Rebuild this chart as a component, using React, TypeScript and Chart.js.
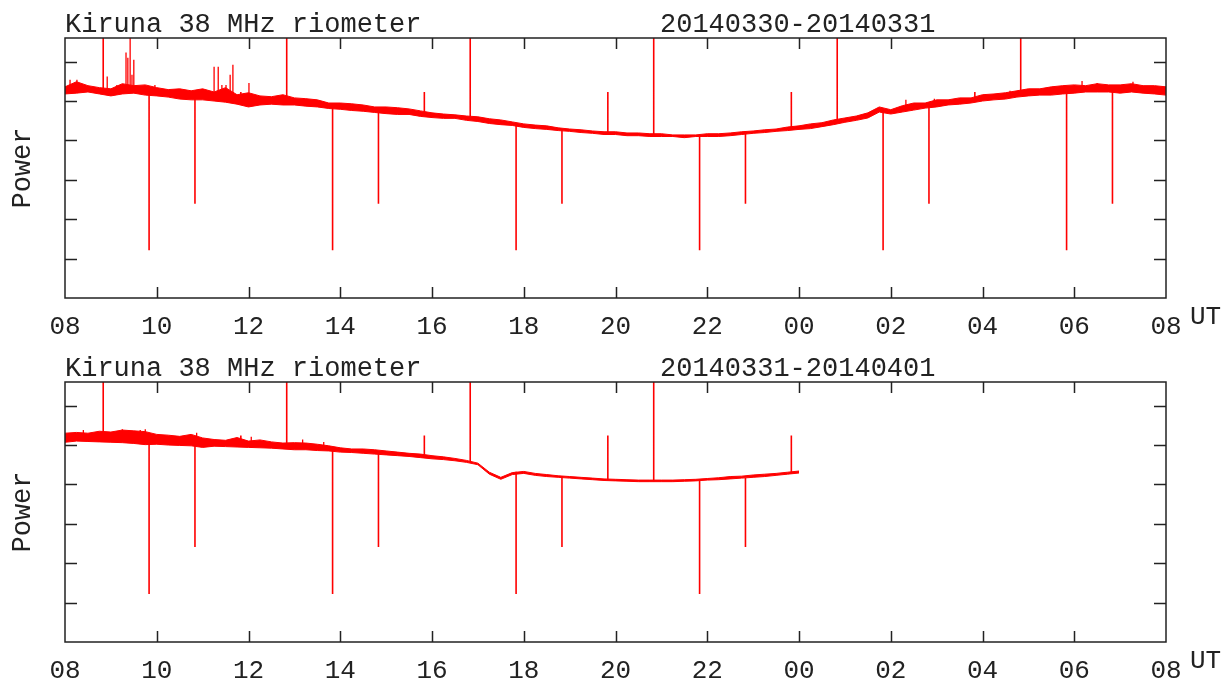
import React, { useEffect, useRef } from 'react';
import { Chart, registerables } from 'chart.js';

Chart.register(...registerables);

// ---------- DATA ----------
// Time axis: hours after 08 UT (0..24). Envelope samples every 15 min.
const SAMPLE_STEP = 0.25;
const START_HOUR = 8;

// Panel 1: 20140330-20140331 (upper / lower edge of the noisy trace)
const topUpper = [
  5.36, 5.49, 5.39, 5.34, 5.31, 5.44, 5.39, 5.41, 5.34, 5.29, 5.31, 5.26, 5.31, 5.23, 5.34, 5.16,
  5.21, 5.13, 5.11, 5.16, 5.08, 5.06, 5.03, 4.95, 4.95, 4.93, 4.90, 4.85, 4.85, 4.83, 4.80, 4.75,
  4.70, 4.67, 4.65, 4.62, 4.60, 4.55, 4.52, 4.47, 4.42, 4.39, 4.37, 4.32, 4.29, 4.27, 4.24, 4.22,
  4.22, 4.19, 4.19, 4.17, 4.17, 4.14, 4.14, 4.14, 4.17, 4.17, 4.19, 4.22, 4.24, 4.27, 4.29, 4.34,
  4.37, 4.42, 4.45, 4.52, 4.57, 4.62, 4.70, 4.85, 4.78, 4.88, 4.95, 4.95, 5.03, 5.03, 5.08, 5.08,
  5.16, 5.18, 5.21, 5.26, 5.31, 5.31, 5.36, 5.39, 5.41, 5.39, 5.44, 5.41, 5.41, 5.44, 5.39, 5.39,
  5.36,
];
const topLower = [
  5.18, 5.20, 5.23, 5.18, 5.13, 5.18, 5.20, 5.15, 5.13, 5.10, 5.05, 5.03, 5.03, 5.00, 4.97, 4.92,
  4.85, 4.90, 4.92, 4.90, 4.90, 4.87, 4.85, 4.81, 4.79, 4.76, 4.74, 4.71, 4.68, 4.66, 4.66, 4.61,
  4.58, 4.56, 4.56, 4.51, 4.48, 4.43, 4.40, 4.38, 4.33, 4.30, 4.28, 4.25, 4.23, 4.20, 4.18, 4.15,
  4.15, 4.12, 4.12, 4.10, 4.10, 4.10, 4.07, 4.10, 4.10, 4.10, 4.12, 4.15, 4.18, 4.20, 4.23, 4.25,
  4.28, 4.30, 4.35, 4.40, 4.46, 4.51, 4.57, 4.72, 4.67, 4.72, 4.77, 4.82, 4.85, 4.90, 4.92, 4.95,
  5.00, 5.03, 5.05, 5.10, 5.13, 5.15, 5.15, 5.18, 5.20, 5.23, 5.23, 5.23, 5.20, 5.23, 5.20, 5.18,
  5.15,
];
// Calibration pulses (hh:50 each hour): time, level reached, trace level
const topCalTimes = [
  0.833, 1.833, 2.833, 3.833, 4.833, 5.833, 6.833, 7.833, 8.833, 9.833, 10.833, 11.833,
  12.833, 13.833, 14.833, 15.833, 16.833, 17.833, 18.833, 19.833, 20.833, 21.833, 22.833,
];
const topCalLevels = [
  8, 1.21, 2.39, 5.23, 8, 1.21, 2.39, 5.23, 8, 1.21, 2.39, 5.23,
  8, 1.21, 2.39, 5.23, 8, 1.21, 2.39, 5.23, 8, 1.21, 2.39,
];
const topCalBases = [
  5.23, 5.21, 5.11, 5.03, 5.01, 4.88, 4.78, 4.67, 4.55, 4.42, 4.27, 4.19,
  4.14, 4.11, 4.19, 4.29, 4.47, 4.73, 4.88, 5.03, 5.16, 5.29, 5.31,
];
// Interference bursts
const topBurstTimes = [
  0.11, 0.26, 0.92, 1.13, 1.33, 1.37, 1.42, 1.46, 1.5, 1.96, 3.25, 3.34, 3.42, 3.51, 3.6, 3.66, 4.01,
  18.33, 18.95, 20.6, 22.17, 22.5, 23.28,
];
const topBurstPeaks = [
  5.54, 5.54, 5.62, 5.41, 6.23, 6.1, 8, 5.67, 6.05, 5.41, 5.87, 5.87, 5.41, 5.41, 5.67, 5.92, 5.46,
  5.03, 5.06, 5.26, 5.51, 5.46, 5.49,
];
const topBurstBases = [
  5.25, 5.25, 5.2, 5.22, 5.25, 5.25, 5.25, 5.25, 5.25, 5.2, 5.1, 5.1, 5.1, 5.08, 5.08, 5.08, 4.95,
  4.8, 4.9, 5.1, 5.3, 5.3, 5.3,
];

// Panel 2: 20140331-20140401 (data up to 00 UT)
const bottomUpper = [
  5.30, 5.32, 5.30, 5.35, 5.33, 5.38, 5.36, 5.34, 5.27, 5.25, 5.22, 5.27, 5.18, 5.14, 5.12, 5.19,
  5.10, 5.13, 5.08, 5.05, 5.06, 5.05, 5.02, 4.98, 4.93, 4.90, 4.90, 4.88, 4.85, 4.82, 4.79, 4.77,
  4.73, 4.70, 4.66, 4.61, 4.54, 4.31, 4.18, 4.30, 4.33, 4.28, 4.25, 4.22, 4.20, 4.18, 4.16, 4.14,
  4.13, 4.12, 4.11, 4.11, 4.11, 4.11, 4.12, 4.13, 4.15, 4.17, 4.20, 4.21, 4.24, 4.26, 4.28, 4.31,
  4.34,
];
const bottomLower = [
  5.07, 5.10, 5.09, 5.08, 5.07, 5.06, 5.04, 5.01, 5.02, 5.00, 4.99, 4.98, 4.94, 4.97, 4.96, 4.95,
  4.94, 4.93, 4.92, 4.90, 4.88, 4.88, 4.86, 4.85, 4.82, 4.81, 4.79, 4.77, 4.75, 4.73, 4.71, 4.68,
  4.65, 4.63, 4.60, 4.56, 4.50, 4.26, 4.13, 4.25, 4.28, 4.23, 4.20, 4.18, 4.16, 4.14, 4.12, 4.10,
  4.09, 4.08, 4.07, 4.07, 4.07, 4.07, 4.08, 4.09, 4.11, 4.12, 4.14, 4.16, 4.18, 4.20, 4.23, 4.26,
  4.29,
];
const bottomCalTimes = [
  0.833, 1.833, 2.833, 3.833, 4.833, 5.833, 6.833, 7.833,
  8.833, 9.833, 10.833, 11.833, 12.833, 13.833, 14.833, 15.833,
];
const bottomCalLevels = [8, 1.22, 2.41, 5.24, 8, 1.22, 2.41, 5.24, 8, 1.22, 2.41, 5.24, 8, 1.22, 2.41, 5.24];
const bottomCalBases = [5.18, 5.15, 5.08, 5.03, 4.97, 4.89, 4.80, 4.70, 4.57, 4.32, 4.19, 4.11, 4.08, 4.10, 4.16, 4.28];
const bottomBurstTimes = [0.4, 1.25, 1.64, 1.75, 2.87, 4.06, 5.18, 5.64];
const bottomBurstPeaks = [5.38, 5.4, 5.38, 5.4, 5.31, 5.21, 5.14, 5.08];
const bottomBurstBases = [5.18, 5.17, 5.15, 5.15, 5.05, 4.98, 4.93, 4.88];

const TITLE = 'Kiruna 38 MHz riometer';
const topDates = '20140330-20140331';
const bottomDates = '20140331-20140401';

// ---------- STYLE ----------
const FONT = '"Liberation Mono", "Courier New", monospace';
const TITLE_SIZE = 27;
const TICK_SIZE = 26;
const TEXT = '#222222';
const RED = '#ff0000';

const pad2 = (n: number) => String(n).padStart(2, '0');

function envelopePoints(vals: number[]) {
  return vals.map((v, i) => ({ x: i * SAMPLE_STEP, y: v }));
}

function spikePoints(times: number[], levels: number[], bases: number[]) {
  const pts: { x: number; y: number | null }[] = [];
  times.forEach((t, i) => {
    pts.push({ x: t, y: bases[i] });
    pts.push({ x: t, y: levels[i] });
    pts.push({ x: t, y: null });
  });
  return pts;
}

type PanelProps = {
  upper: number[];
  lower: number[];
  calT: number[];
  calL: number[];
  calB: number[];
  burstT: number[];
  burstP: number[];
  burstB: number[];
  dates: string;
  height: number;
  axisHeight: number;
};

function Panel(p: PanelProps) {
  const ref = useRef<HTMLCanvasElement | null>(null);

  useEffect(() => {
    if (!ref.current) return;

    const framePlugin = {
      id: 'riometerFrame',
      afterDatasetsDraw(chart: any) {
        const { ctx, chartArea: a, scales } = chart;
        const xs = scales.x;
        const ys = scales.y;
        ctx.save();
        ctx.strokeStyle = TEXT;
        ctx.lineWidth = 1.5;
        ctx.strokeRect(a.left, a.top, a.right - a.left, a.bottom - a.top);
        ctx.beginPath();
        xs.ticks.forEach((t: any) => {
          if (t.value <= xs.min || t.value >= xs.max) return;
          const px = Math.round(xs.getPixelForValue(t.value)) + 0.5;
          ctx.moveTo(px, a.bottom);
          ctx.lineTo(px, a.bottom - 11);
          ctx.moveTo(px, a.top);
          ctx.lineTo(px, a.top + 11);
        });
        ys.ticks.forEach((t: any) => {
          if (t.value <= ys.min || t.value >= ys.max) return;
          const py = Math.round(ys.getPixelForValue(t.value)) + 0.5;
          ctx.moveTo(a.left, py);
          ctx.lineTo(a.left + 12, py);
          ctx.moveTo(a.right, py);
          ctx.lineTo(a.right - 12, py);
        });
        ctx.stroke();

        ctx.fillStyle = TEXT;
        ctx.font = `${TITLE_SIZE}px ${FONT}`;
        ctx.textAlign = 'left';
        ctx.textBaseline = 'alphabetic';
        ctx.fillText(TITLE, a.left, a.top - 6);
        ctx.fillText(p.dates, a.left + 595, a.top - 6);
        ctx.font = `${TICK_SIZE}px ${FONT}`;
        ctx.fillText('UT', a.right + 24, a.bottom + 26);
        ctx.restore();
      },
    };

    const chart = new Chart(ref.current, {
      type: 'line',
      data: {
        datasets: [
          {
            data: envelopePoints(p.upper),
            borderColor: RED,
            backgroundColor: RED,
            borderWidth: 1,
            pointRadius: 0,
            tension: 0,
            fill: '+1',
          },
          {
            data: envelopePoints(p.lower),
            borderColor: RED,
            borderWidth: 1,
            pointRadius: 0,
            tension: 0,
            fill: false,
          },
          {
            data: spikePoints(p.calT, p.calL, p.calB),
            borderColor: RED,
            borderWidth: 1.6,
            pointRadius: 0,
            spanGaps: false,
            fill: false,
          },
          {
            data: spikePoints(p.burstT, p.burstP, p.burstB),
            borderColor: RED,
            borderWidth: 1.3,
            pointRadius: 0,
            spanGaps: false,
            fill: false,
          },
        ],
      } as any,
      options: {
        responsive: false,
        animation: false,
        events: [],
        layout: { padding: { top: 38, right: 59, bottom: 0, left: 0 } },
        plugins: {
          legend: { display: false },
          tooltip: { enabled: false },
        },
        scales: {
          x: {
            type: 'linear',
            min: 0,
            max: 24,
            grid: { display: false },
            border: { display: false },
            ticks: {
              stepSize: 2,
              autoSkip: false,
              maxRotation: 0,
              padding: 6,
              color: TEXT,
              font: { family: FONT, size: TICK_SIZE },
              callback: (v: any) => pad2((START_HOUR + Number(v)) % 24),
            },
            afterFit: (s: any) => {
              s.height = p.axisHeight;
            },
          },
          y: {
            type: 'linear',
            min: 0,
            max: 6.6,
            grid: { display: false },
            border: { display: false },
            ticks: { display: false, stepSize: 1, includeBounds: false },
            title: {
              display: true,
              text: 'Power',
              color: TEXT,
              font: { family: FONT, size: TITLE_SIZE },
              padding: { top: 7, bottom: 0 },
            },
            afterFit: (s: any) => {
              s.width = 65;
            },
          },
        },
      } as any,
      plugins: [framePlugin],
    });
    return () => chart.destroy();
  }, []);

  return (
    <canvas
      ref={ref}
      width={1225}
      height={p.height}
      style={{ display: 'block', width: 1225, height: p.height }}
    />
  );
}

export default function App() {
  return (
    <div style={{ position: 'fixed', left: 0, top: 0, width: 1225, height: 687, background: '#fff', overflow: 'hidden' }}>
      <Panel
        upper={topUpper}
        lower={topLower}
        calT={topCalTimes}
        calL={topCalLevels}
        calB={topCalBases}
        burstT={topBurstTimes}
        burstP={topBurstPeaks}
        burstB={topBurstBases}
        dates={topDates}
        height={344}
        axisHeight={46}
      />
      <Panel
        upper={bottomUpper}
        lower={bottomLower}
        calT={bottomCalTimes}
        calL={bottomCalLevels}
        calB={bottomCalBases}
        burstT={bottomBurstTimes}
        burstP={bottomBurstPeaks}
        burstB={bottomBurstBases}
        dates={bottomDates}
        height={343}
        axisHeight={45}
      />
    </div>
  );
}
